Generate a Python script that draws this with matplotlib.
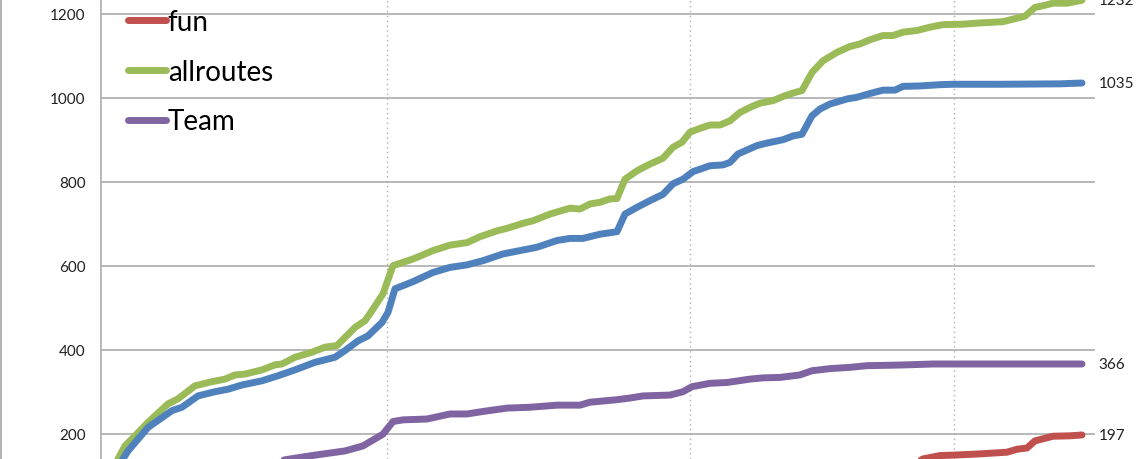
import matplotlib
matplotlib.use("Agg")
import matplotlib.pyplot as plt
from matplotlib.lines import Line2D

plt.rcParams['font.family'] = ['Lato', 'DejaVu Sans']

# Dados (x = dias desde o início, y = total acumulado)
x_allroutes = [0.4, 1.7, 2.4, 3.4, 4.7, 6.7, 7.7, 9.4, 11.1, 12.4, 13.4, 14.4, 16.1, 17.4, 18.1,
               19.4, 21.1, 22.4, 23.6, 25.4, 26.4, 27.1, 28.2, 29.2, 31.2, 33.2, 34.9, 36.6, 37.9,
               39.6, 40.6, 42.2, 43.2, 44.9, 46.9, 47.9, 48.9, 49.9, 50.9, 51.6, 52.4, 53.6, 54.9,
               56.2, 57.2, 58.1, 58.9, 59.9, 60.9, 61.9, 62.9, 63.9, 64.9, 65.9, 67.2, 68.2, 69.2,
               70.1, 71.1, 72.2, 73.6, 74.9, 75.9, 76.9, 78.2, 79.2, 80.2, 81.6, 82.9, 84.2, 86.2,
               87.9, 90.2, 91.2, 92.4, 93.4, 94.2, 95.2, 96.6, 98.1]
y_allroutes = [60, 140, 171, 195, 227, 271, 283, 314, 324, 330, 340, 342, 352, 364, 366,
               382, 394, 406, 410, 453, 469, 493, 533, 600, 616, 636, 649, 655, 669,
               683, 689, 701, 707, 723, 737, 735, 747, 751, 759, 760, 806, 826, 842,
               856, 882, 894, 918, 927, 935, 935, 945, 965, 977, 987, 993, 1003, 1011,
               1017, 1060, 1088, 1108, 1122, 1128, 1138, 1148, 1148, 1156, 1160, 1168, 1174, 1175,
               1178, 1181, 1187, 1194, 1215, 1219, 1225, 1225, 1232]

x_total = [0.4, 2.2, 2.7, 4.7, 7.1, 8.1, 9.7, 11.4, 12.7, 14.1, 16.1, 17.7, 19.4, 21.4, 23.4,
           24.4, 25.7, 26.7, 28.1, 28.7, 29.4, 31.2, 33.2, 34.9, 36.6, 38.2, 40.2, 41.9, 43.6,
           45.6, 46.9, 48.2, 49.9, 51.6, 52.4, 53.6, 54.9, 56.2, 57.2, 58.2, 59.2, 60.9, 62.2,
           62.9, 63.7, 65.6, 66.6, 68.2, 69.2, 70.1, 71.1, 71.9, 72.9, 74.6, 75.6, 76.9, 78.2,
           79.4, 80.2, 81.9, 83.9, 85.2, 89.9, 95.9, 98.1]
y_total = [50, 140, 159, 215, 255, 263, 290, 300, 306, 316, 326, 338, 352, 370, 382,
           398, 421, 433, 465, 489, 545, 562, 584, 596, 602, 612, 628, 636, 644,
           660, 665, 665, 675, 681, 723, 739, 755, 770, 795, 806, 824, 838, 840,
           846, 866, 886, 892, 900, 909, 913, 957, 973, 985, 997, 1001, 1010, 1018,
           1018, 1027, 1028, 1031, 1032, 1032, 1033, 1035]

x_team = [1.7, 10.0, 18.4, 21.1, 24.4, 26.2, 28.2, 29.2, 30.2, 32.6, 34.9, 36.6, 38.2, 40.6,
          42.9, 45.6, 47.9, 48.9, 51.6, 52.9, 54.2, 56.9, 58.2, 59.1, 60.9, 62.6, 64.9, 66.2,
          67.9, 69.9, 71.1, 72.9, 74.9, 76.6, 78.9, 80.6, 83.2, 98.1]
y_team = [40, 90, 138, 148, 159, 171, 199, 229, 233, 235, 247, 247, 253, 261,
          263, 268, 268, 275, 281, 285, 290, 292, 300, 312, 320, 322, 330, 333,
          334, 340, 350, 355, 358, 362, 363, 364, 366, 366]

x_fun = [1.7, 30.0, 60.0, 80.0, 82.2, 83.9, 85.2, 87.9, 90.6, 91.6, 92.6, 93.4, 95.2, 96.9, 98.1]
y_fun = [0, 20, 60, 110, 140, 148, 149, 152, 156, 163, 166, 183, 194, 195, 197]

W, H = 1140, 460
fig = plt.figure(figsize=(W / 100, H / 100), dpi=100)
ax = fig.add_axes([101 / W, 0, (1095 - 101) / W, 1])

lw = 5.0
estilo = dict(lw=lw, solid_capstyle="round", solid_joinstyle="round", zorder=3)
ax.plot(x_fun, y_fun, color="#C0504D", label="fun", **estilo)
ax.plot(x_allroutes, y_allroutes, color="#9BBB59", label="allroutes", **estilo)
ax.plot(x_team, y_team, color="#8064A2", label="Team", **estilo)
ax.plot(x_total, y_total, color="#4F81BD", label="_nolegend_", **estilo)

# rótulos no fim de cada série
for xs, ys in [(x_allroutes, y_allroutes), (x_total, y_total), (x_team, y_team), (x_fun, y_fun)]:
    ax.annotate(str(ys[-1]), (xs[-1], ys[-1]), xytext=(12, 0), textcoords="offset points",
                va="center", ha="left", fontsize=11, color="#222222", annotation_clip=False)

ax.set_xlim(0, 99.4)
ax.set_ylim(139.8, 1235)
ax.set_yticks([200, 400, 600, 800, 1000, 1200])
ax.set_xticks([28.6, 58.9, 85.3])
ax.set_xticklabels([])
ax.tick_params(axis="y", length=0, pad=11, labelsize=11, labelcolor="#222222")
ax.tick_params(axis="x", length=0)

ax.grid(axis="y", color="#a6a6a6", lw=1.1, zorder=1)
ax.grid(axis="x", color="#b0b0b0", lw=1.0, linestyle=(0, (1, 2.5)), zorder=1)

for s in ["top", "right", "bottom"]:
    ax.spines[s].set_visible(False)
ax.spines["left"].set_color("#a6a6a6")
ax.spines["left"].set_linewidth(1.1)

ax.legend(loc="upper left", bbox_to_anchor=(0.0272, 0.978), frameon=False, fontsize=20,
          handlelength=1.35, handletextpad=0.08, labelspacing=0.85, borderpad=0, borderaxespad=0)

# borda esquerda do quadro
fig.add_artist(Line2D([0.0012, 0.0012], [0, 1], transform=fig.transFigure, color="#a6a6a6", lw=1.2))

fig.savefig("out.png", dpi=100)
